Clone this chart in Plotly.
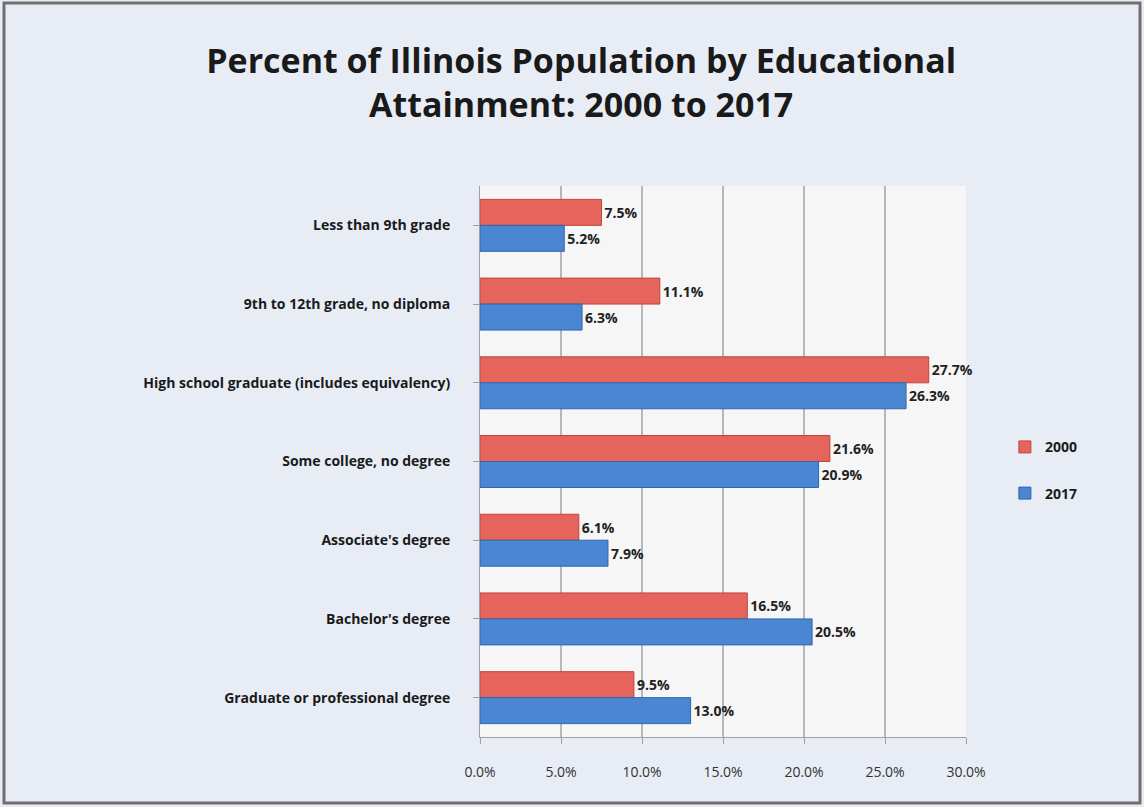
import plotly.graph_objects as go

categories = [
    "Less than 9th grade",
    "9th to 12th grade, no diploma",
    "High school graduate (includes equivalency)",
    "Some college, no degree",
    "Associate's degree",
    "Bachelor's degree",
    "Graduate or professional degree",
]
values_2000 = [7.5, 11.1, 27.7, 21.6, 6.1, 16.5, 9.5]
values_2017 = [5.2, 6.3, 26.3, 20.9, 7.9, 20.5, 13.0]
tick_vals = [0, 5, 10, 15, 20, 25, 30]
tick_text = ["0.0%", "5.0%", "10.0%", "15.0%", "20.0%", "25.0%", "30.0%"]

FONT = "Open Sans"
W, H = 1144, 807
L, R, T, B = 480, 178, 186, 70
PW, PH = W - L - R, H - T - B

fig = go.Figure()
fig.add_trace(go.Bar(
    y=categories, x=values_2000, name="2000", orientation="h",
    marker=dict(color="#e5645c", line=dict(color="#c0453f", width=1)),
    text=[f"{v:.1f}%" for v in values_2000], textposition="outside",
    textfont=dict(family=FONT, size=14, color="#222222", weight="bold"),
    cliponaxis=False, legendgroup="a",
))
fig.add_trace(go.Bar(
    y=categories, x=values_2017, name="2017", orientation="h",
    marker=dict(color="#4b86d3", line=dict(color="#2f66ad", width=1)),
    text=[f"{v:.1f}%" for v in values_2017], textposition="outside",
    textfont=dict(family=FONT, size=14, color="#222222", weight="bold"),
    cliponaxis=False, legendgroup="b",
))

fig.update_layout(
    width=W, height=H,
    barmode="group", bargap=0.34, bargroupgap=0.0,
    paper_bgcolor="#e8edf5", plot_bgcolor="#f6f6f6",
    margin=dict(l=L, r=R, t=T, b=B),
    title=dict(
        text="<b>Percent of Illinois Population by Educational<br>Attainment: 2000 to 2017</b>",
        x=0.508, xanchor="center", y=0.910, yanchor="middle",
        font=dict(family=FONT, size=34, color="#1a1a1a"),
    ),
    xaxis=dict(
        range=[0, 30], tickvals=tick_vals, ticktext=tick_text,
        showgrid=True, gridcolor="#b8b8b8", gridwidth=1.5,
        zeroline=False, showline=True, linecolor="#a0a0a0",
        ticks="outside", tickcolor="#a0a0a0", ticklen=6,
        tickfont=dict(family=FONT, size=14, color="#333333"),
        ticklabelstandoff=16, mirror=False,
    ),
    yaxis=dict(
        autorange="reversed", showgrid=False, showline=True,
        linecolor="#a0a0a0", ticks="outside", tickcolor="#a0a0a0", ticklen=6,
        tickfont=dict(family=FONT, size=14, color="#1a1a1a", weight="bold"),
        ticklabelstandoff=20,
    ),
    legend=dict(
        x=1.08, y=0.484, xanchor="left", yanchor="middle",
        font=dict(family=FONT, size=14, color="#1a1a1a", weight="bold"),
        bgcolor="rgba(0,0,0,0)", tracegroupgap=25, traceorder="grouped",
        itemwidth=30,
    ),
    shapes=[dict(type="rect", xref="paper", yref="paper",
                 x0=(4 - L) / PW, x1=(W - 4 - L) / PW,
                 y0=-(B - 4) / PH, y1=1 + (T - 3) / PH,
                 line=dict(color="#6f6f6f", width=3), layer="below")],
)

fig.write_html("out.html", config={"displayModeBar": False},
               post_script="document.body.style.margin='0';")
